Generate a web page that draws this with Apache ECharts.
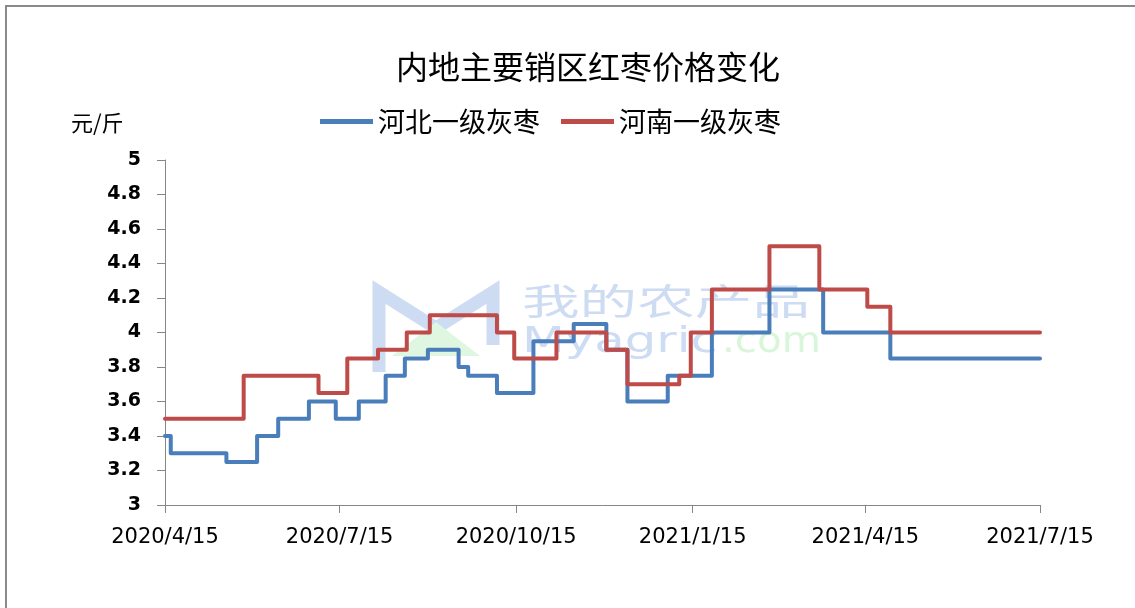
<!DOCTYPE html>
<html>
<head>
<meta charset="utf-8">
<script src="https://cdn.jsdelivr.net/npm/echarts@6/dist/echarts.min.js"></script>
<style>
html,body{margin:0;padding:0;background:#fff;}
#frame{position:absolute;left:5px;top:5px;width:1130px;height:603px;border-top:2px solid #8a8a8a;border-left:2px solid #8a8a8a;box-sizing:border-box;}
#chart{position:absolute;left:0;top:0;width:1135px;height:608px;}
</style>
</head>
<body>
<div id="frame"></div>
<div id="chart"></div>
<script>
var titleText = '内地主要销区红枣价格变化';
var unitText = '元/斤';
var seriesNames = ['河北一级灰枣', '河南一级灰枣'];
var xTickLabels = ['2020/4/15', '2020/7/15', '2020/10/15', '2021/1/15', '2021/4/15', '2021/7/15'];

var hebeiDates = ['2020-04-15','2020-04-18','2020-05-17','2020-06-02','2020-06-13','2020-06-29','2020-07-13','2020-07-25','2020-08-08','2020-08-18','2020-08-30','2020-09-15','2020-09-20','2020-10-05','2020-10-24','2020-11-14','2020-12-01','2020-12-12','2021-01-02','2021-01-25','2021-02-24','2021-03-24','2021-04-28','2021-07-15'];
var hebeiValues = [3.4,3.3,3.25,3.4,3.5,3.6,3.5,3.6,3.75,3.85,3.9,3.8,3.75,3.65,3.95,4.05,3.9,3.6,3.75,4.0,4.25,4.0,3.85,3.85];

var henanDates = ['2020-04-15','2020-05-26','2020-07-04','2020-07-19','2020-08-04','2020-08-19','2020-08-31','2020-10-05','2020-10-14','2020-11-05','2020-12-01','2020-12-12','2021-01-08','2021-01-14','2021-01-25','2021-02-24','2021-03-22','2021-04-16','2021-04-28','2021-07-15'];
var henanValues = [3.5,3.75,3.65,3.85,3.9,4.0,4.1,4.0,3.85,4.0,3.9,3.7,3.75,4.0,4.25,4.5,4.25,4.15,4.0,4.0];

function parseDate(s){
  var p = s.split(/[-\/]/).map(Number);
  return new Date(p[0], p[1]-1, p[2]).getTime();
}
function pairs(d, v){ return d.map(function(s,i){ return [parseDate(s), v[i]]; }); }
var tickValues = xTickLabels.map(parseDate);

var chart = echarts.init(document.getElementById('chart'), null, {renderer:'canvas'});
var option = {
  animation: false,
  backgroundColor: 'transparent',
  title: {
    text: titleText, left: 583, top: 46, textAlign: 'center',
    textStyle: {fontFamily: 'Noto Sans CJK SC', fontSize: 32, fontWeight: 'normal', color: '#000'}
  },
  legend: {
    left: 320, top: 108, itemGap: 21, itemWidth: 53, itemHeight: 5, padding: 0,
    icon: 'rect',
    textStyle: {fontFamily: 'Noto Sans CJK SC', fontSize: 27, color: '#000'},
    data: seriesNames
  },
  graphic: [
    {type:'text', left: 71, top: 112, z: 10, style:{text: unitText, font: '22px "Noto Sans CJK SC"', fill:'#000'}},
    {type:'polyline', z: 0, silent: true, shape:{points:[[379,372],[379,292],[436,328],[493,292],[493,345]]}, style:{stroke:'#cddcf3', lineWidth:13, fill:null}},
    {type:'polygon', z: 0, silent: true, shape:{points:[[392,356],[436,322],[480,356]]}, style:{fill:'#dff7e0'}},
    {type:'text', z: 0, silent: true, x: 522, y: 283, scaleX: 1.6, style:{text:'我的农产品', font: '36px "Noto Sans CJK SC"', fill:'#cddcf3'}},
    {type:'text', z: 0, silent: true, x: 522, y: 325, scaleX: 1.38, style:{text:'Myagric', font: '36px "DejaVu Sans"', fill:'#cddcf3'}},
    {type:'text', z: 0, silent: true, x: 722, y: 325, scaleX: 1.12, style:{text:'.com', font: '36px "DejaVu Sans"', fill:'#d9f6da'}}
  ],
  grid: {left: 165, right: 95, top: 160, bottom: 103},
  xAxis: {
    type: 'value',
    min: tickValues[0], max: tickValues[tickValues.length-1],
    axisLine: {show:true, lineStyle:{color:'#868686', width:1}},
    axisTick: {show:true, length:8, lineStyle:{color:'#868686'}, customValues: tickValues},
    axisLabel: {
      customValues: tickValues, margin: 22,
      fontFamily: 'DejaVu Sans', fontSize: 21, color: '#000',
      formatter: function(v){ var d = new Date(v); return d.getFullYear()+'/'+(d.getMonth()+1)+'/'+d.getDate(); }
    },
    splitLine: {show:false}
  },
  yAxis: {
    type: 'value', min: 3, max: 5, interval: 0.2,
    axisLine: {show:true, lineStyle:{color:'#868686', width:1}},
    axisTick: {show:true, length:8, lineStyle:{color:'#868686'}},
    axisLabel: {margin: 24, fontFamily:'DejaVu Sans', fontWeight:'bold', fontSize:19, color:'#000',
      formatter: function(v){ return String(Math.round(v*10)/10); }},
    splitLine: {show:false}
  },
  series: [
    {name: seriesNames[0], type:'line', step:'end', symbol:'none', z: 3,
     data: pairs(hebeiDates, hebeiValues),
     itemStyle:{color:'#4a7ebb'}, lineStyle:{color:'#4a7ebb', width:4, cap:'round', join:'round'}},
    {name: seriesNames[1], type:'line', step:'end', symbol:'none', z: 4,
     data: pairs(henanDates, henanValues),
     itemStyle:{color:'#be4b48'}, lineStyle:{color:'#be4b48', width:4, cap:'round', join:'round'}}
  ]
};
chart.setOption(option);
</script>
</body>
</html>
